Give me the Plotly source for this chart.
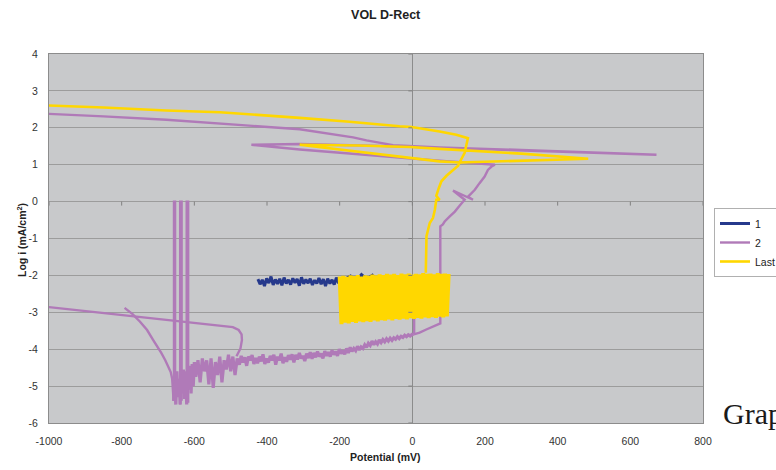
import plotly.graph_objects as go

# ---------------- axis ticks ----------------
x_ticks = [-1000, -800, -600, -400, -200, 0, 200, 400, 600, 800]
y_ticks = [-6, -5, -4, -3, -2, -1, 0, 1, 2, 3, 4]

# ---------------- series "1" (navy) ----------------
s1_x = [-425, -419, -413, -407, -401, -395, -389, -383, -377, -371, -365, -359, -353,
        -347, -341, -335, -329, -323, -317, -311, -305, -299, -293, -287, -281, -275,
        -269, -263, -257, -251, -245, -239, -233, -227, -221, -215, -209, -203, -197,
        -185, -170, -155, -140, -125, -110, -95]
s1_y = [-2.10, -2.24, -2.12, -2.29, -2.08, -2.21, -2.03, -2.26, -2.11, -2.23,
        -2.09, -2.27, -2.06, -2.22, -2.12, -2.25, -2.08, -2.20, -2.10, -2.28,
        -2.05, -2.23, -2.11, -2.21, -2.09, -2.26, -2.13, -2.22, -2.07, -2.24,
        -2.10, -2.29, -2.09, -2.22, -2.12, -2.25, -2.06, -2.21, -2.10,
        -2.10, -2.02, -2.15, -1.98, -2.10, -2.00, -2.20]

# ---------------- series "2" (purple) ----------------
s2_cath_x = [-792, -770, -750, -730, -714, -700, -691, -680, -672, -665, -661, -659, -657]
s2_cath_y = [-2.88, -3.05, -3.25, -3.48, -3.74, -3.95, -4.10, -4.30, -4.45, -4.62, -4.80, -5.10, -5.40]

s2_band_x = [-657, -654, -651, -648, -645, -642, -639, -636, -633, -630,
             -627, -624, -621, -618, -615, -612, -609, -606, -603, -600,
             -596, -590, -584, -578, -572, -566, -560, -554, -548, -542,
             -536, -530, -524, -518, -512, -506, -500, -494, -488, -482,
             -476, -471, -466, -461, -456, -451, -446, -441, -436, -431,
             -426, -421, -416, -411, -406, -401, -396, -391, -386, -381,
             -376, -371, -366, -361, -356, -351, -346, -341, -336, -331,
             -326, -321, -316, -311, -306, -301, -296, -291, -286, -281,
             -276, -271, -266, -261, -256, -251, -246, -241, -236, -231,
             -226, -221, -216, -211, -206, -201, -196, -191, -186, -181,
             -176, -171, -166, -161, -156, -151, -146, -141, -136, -131,
             -126, -121, -116, -111, -106, -101, -96, -91, -86, -81,
             -76, -71, -66, -61, -56, -51, -46, -41, -36, -31,
             -26, -21, -16, -11, -6, -1, 4]
s2_band_y = [-5.40, -4.90, -5.50, -4.60, -5.30, -4.80, -5.50, -4.70, -5.20, -4.55,
             -5.35, -4.60, -5.50, -4.50, -5.10, -4.45, -5.20, -4.40, -5.00, -4.35,
             -4.75, -4.30, -4.90, -4.25, -4.60, -4.30, -4.95, -4.25, -5.05, -4.35,
             -4.70, -4.20, -4.90, -4.30, -4.55, -4.15, -4.60, -4.20, -4.70, -4.25,
             -4.42, -4.18, -4.36, -4.22, -4.45, -4.20, -4.30, -4.16, -4.40, -4.24,
             -4.38, -4.20, -4.33, -4.14, -4.40, -4.25, -4.36, -4.18, -4.30, -4.15,
             -4.42, -4.20, -4.30, -4.12, -4.38, -4.22, -4.34, -4.16, -4.28, -4.14,
             -4.36, -4.15, -4.28, -4.10, -4.25, -4.18, -4.32, -4.12, -4.24, -4.08,
             -4.26, -4.10, -4.22, -4.06, -4.20, -4.12, -4.25, -4.05, -4.18, -4.08,
             -4.20, -4.03, -4.15, -4.06, -4.18, -4.00, -4.12, -4.04, -4.14, -3.98,
             -4.10, -3.95, -4.06, -3.98, -4.04, -3.92, -4.02, -3.94, -3.98, -3.88,
             -3.95, -3.84, -3.90, -3.78, -3.88, -3.80, -3.86, -3.75, -3.82, -3.74,
             -3.80, -3.72, -3.78, -3.70, -3.76, -3.69, -3.73, -3.66, -3.71, -3.65,
             -3.68, -3.62, -3.66, -3.61, -3.64, -3.60, -3.60]

s2_up_x = [4, 20, 40, 60, 77, 77, 77, 84, 89, 103, 117, 130, 144, 112, 149, 167, 153, 172,
           185, 199, 208, 218, 227, 130, 75, -2, -310, -443, -310, -88, 75, 300, 672,
           300, 75, -53, -126, -163, -310, -457, -677, -850, -1000, -1050]
s2_up_y = [-3.60, -3.55, -3.46, -3.38, -3.30, -1.93, -0.67, -0.62, -0.54, -0.40, -0.27, -0.11,
           0.05, 0.30, 0.12, 0.05, 0.13, 0.32, 0.50, 0.68, 0.86, 0.95, 1.00, 1.06, 1.11,
           1.17, 1.41, 1.54, 1.56, 1.51, 1.46, 1.38, 1.27, 1.40, 1.47, 1.53, 1.66, 1.74,
           1.96, 2.06, 2.22, 2.31, 2.38, 2.40]

s2_ret_x = [-1050, -1000, -494, -478, -470, -469, -473, -484]
s2_ret_y = [-2.83, -2.86, -3.40, -3.48, -3.60, -3.75, -3.98, -4.19]

s2_step_x = [5, 5]
s2_step_y = [-3.60, -2.60]

s2_spike_x = [-656, -656, -653, -653, None, -639, -639, -635, -635, None, -621, -621, -617, -617]
s2_spike_y = [-5.40, 0, 0, -5.30, None, -5.50, 0, 0, -5.40, None, -5.30, 0, 0, -5.45]

# ---------------- series "Last" (yellow) ----------------
last_block_x = [-200, -195, -190, -185, -180, -175, -170, -165, -160, -155, -150, -145,
                -140, -135, -130, -125, -120, -115, -110, -105, -100, -95, -90, -85, -80,
                -75, -70, -65, -60, -55, -50, -45, -40, -35, -30, -25, -20, -15, -10, -5,
                0, 5, 10, 15, 20, 25, 30, 35, 40, 45, 50, 55, 60, 65, 70, 75, 80, 85, 90,
                95, 100]
last_block_y = [-2.03, -3.32, -2.01, -3.28, -2.04, -3.30, -2.00, -3.26, -2.02, -3.29,
                -1.99, -3.25, -2.03, -3.27, -2.00, -3.24, -2.01, -3.26, -1.98, -3.22,
                -2.00, -3.25, -1.97, -3.21, -1.99, -3.23, -1.96, -3.19, -1.98, -3.22,
                -1.96, -3.18, -1.99, -3.20, -1.95, -3.17, -1.97, -3.19, -1.95, -3.16,
                -1.98, -3.18, -1.96, -3.15, -1.97, -3.17, -1.94, -3.14, -1.96, -3.16,
                -1.95, -3.13, -1.97, -3.15, -1.94, -3.12, -1.96, -3.14, -1.95, -3.11,
                -1.96]

last_rest_x = [37, 39, 48, 57, 62, 66, 75, 66, 73, 80, 94, 112, 126, 130,
               300, 484, 300, 150, 75, -6, -150, -310, -163, -2, 75, 130,
               144, 150, 153, 121, 75, -2, -35, -181, -310, -530, -677, -850, -1000, -1050]
last_rest_y = [-1.93, -0.94, -0.58, -0.44, -0.22, 0.05, 0.05, 0.16, 0.37, 0.55, 0.70,
               0.86, 0.97, 1.06,
               1.11, 1.16, 1.30, 1.40, 1.43, 1.48, 1.52, 1.54, 1.37, 1.18, 1.09, 1.06,
               1.32, 1.59, 1.72, 1.81, 1.90, 2.02, 2.04, 2.17, 2.27, 2.42, 2.47, 2.55,
               2.60, 2.62]

# ---------------- assemble ----------------
s2_x = s2_cath_x + [None] + s2_up_x + [None] + s2_ret_x + [None] + s2_step_x + [None] + s2_spike_x
s2_y = s2_cath_y + [None] + s2_up_y + [None] + s2_ret_y + [None] + s2_step_y + [None] + s2_spike_y

NAVY = "#26398C"
PURPLE = "#B07AB8"
YELLOW = "#FFD700"
FONT = "Liberation Sans, Arial, sans-serif"

fig = go.Figure()
fig.add_trace(go.Scatter(x=s1_x, y=s1_y, mode="lines", name="1", legendgroup="1",
                         line=dict(color=NAVY, width=3)))
fig.add_trace(go.Scatter(x=s2_x, y=s2_y, mode="lines", name="2", legendgroup="2",
                         line=dict(color=PURPLE, width=2.4), connectgaps=False))
fig.add_trace(go.Scatter(x=s2_band_x, y=s2_band_y, mode="lines", name="2", legendgroup="2",
                         showlegend=False, line=dict(color=PURPLE, width=3.2)))
fig.add_trace(go.Scatter(x=last_rest_x, y=last_rest_y, mode="lines", name="Last",
                         legendgroup="Last", line=dict(color=YELLOW, width=2.6)))
fig.add_trace(go.Scatter(x=last_block_x, y=last_block_y, mode="lines", name="Last",
                         legendgroup="Last", showlegend=False,
                         line=dict(color=YELLOW, width=4)))

# small tick marks on the zero axis lines
shapes = []
for xv in x_ticks:
    shapes.append(dict(type="line", xref="x", yref="y", x0=xv, x1=xv,
                       ysizemode="pixel", yanchor=0, y0=0, y1=-4,
                       line=dict(color="#808080", width=1)))
for yv in y_ticks:
    shapes.append(dict(type="line", xref="x", yref="y", y0=yv, y1=yv,
                       xsizemode="pixel", xanchor=0, x0=-4, x1=0,
                       line=dict(color="#808080", width=1)))

fig.update_layout(
    width=776, height=470,
    margin=dict(l=49, r=73, t=54, b=47, autoexpand=False),
    paper_bgcolor="white",
    plot_bgcolor="#C8C9CB",
    font=dict(family=FONT, size=10.5, color="#333333"),
    title=dict(text="<b>VOL D-Rect</b>", x=0.497, xref="container", xanchor="center",
               y=1 - 15 / 470, yref="container", yanchor="middle",
               font=dict(family=FONT, size=12.5, color="#222222")),
    showlegend=True,
    legend=dict(x=(714 - 49) / 654, xanchor="left", y=(423 - 208) / 369, yanchor="top",
                bgcolor="white", bordercolor="#B0B0B0", borderwidth=1,
                font=dict(family=FONT, size=10.5, color="#222222"),
                tracegroupgap=0),
    shapes=shapes,
    xaxis=dict(range=[-1000, 800], tickvals=x_ticks, ticktext=[str(v) for v in x_ticks],
               showgrid=False, zeroline=True, zerolinecolor="#8C8C8C", zerolinewidth=1,
               showline=True, linecolor="#8C8C8C", linewidth=1, mirror=True,
               ticks="", ticklabelstandoff=8, automargin=False,
               tickfont=dict(family=FONT, size=10.5, color="#333333")),
    yaxis=dict(range=[-6, 4], tickvals=y_ticks, ticktext=[str(v) for v in y_ticks],
               showgrid=True, gridcolor="#9C9C9C", gridwidth=1,
               zeroline=True, zerolinecolor="#9C9C9C", zerolinewidth=1,
               showline=True, linecolor="#8C8C8C", linewidth=1, mirror=True,
               ticks="", ticklabelstandoff=8, automargin=False,
               tickfont=dict(family=FONT, size=10.5, color="#333333")),
    annotations=[
        dict(text="<b>Potential (mV)</b>", xref="paper", yref="paper",
             x=(385 - 49) / 654, y=(423 - 457) / 369, xanchor="center", yanchor="middle",
             showarrow=False, font=dict(family=FONT, size=10.5, color="#222222")),
        dict(text="<b>Log i (mA/cm<sup>2</sup>)</b>", xref="paper", yref="paper",
             x=(21 - 49) / 654, y=(423 - 240) / 369, xanchor="center", yanchor="middle",
             textangle=-90, showarrow=False,
             font=dict(family=FONT, size=10.5, color="#222222")),
        dict(text="Graph", xref="paper", yref="paper",
             x=(721 - 49) / 654, y=(423 - 413) / 369, xanchor="left", yanchor="middle",
             showarrow=False,
             font=dict(family="Liberation Serif, Times New Roman, serif", size=30,
                       color="#1A1A1A")),
    ],
)

fig.write_html("out.html")
